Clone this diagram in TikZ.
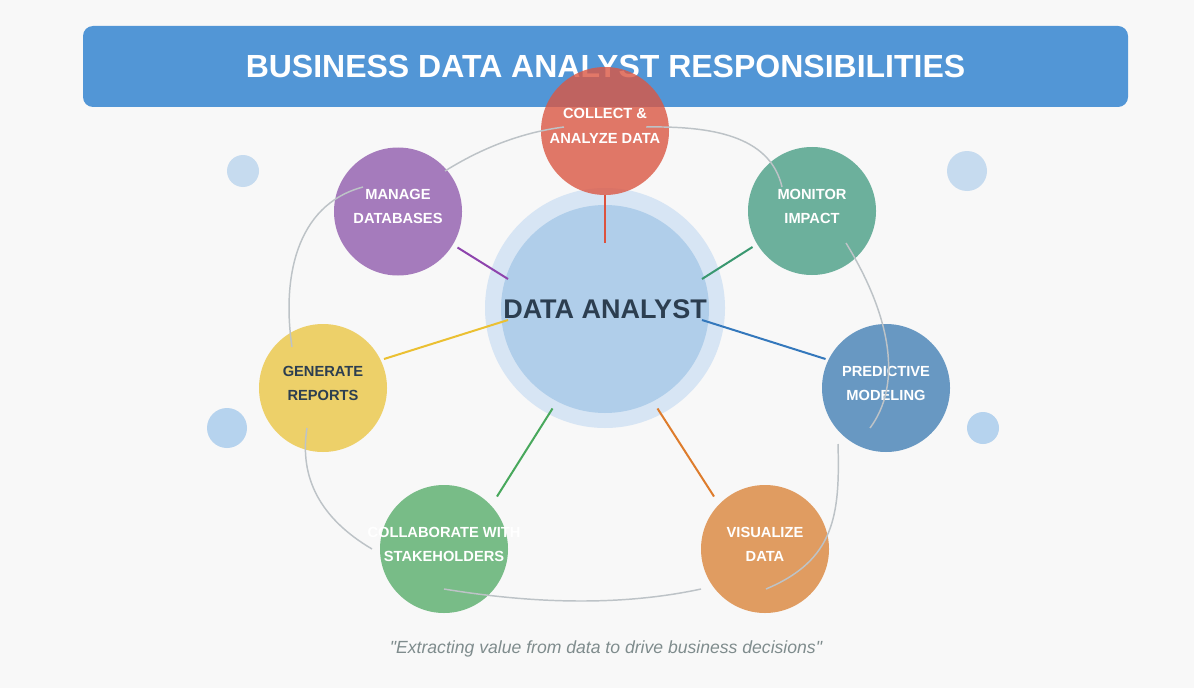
\documentclass[tikz,border=0pt]{standalone}
\usepackage{fontspec}
\setmainfont{Liberation Sans}[Ligatures=TeXOff]
\usetikzlibrary{calc}
\definecolor{bgc}{RGB}{248,248,248}
\definecolor{titlec}{RGB}{82,150,214}
\definecolor{darkc}{RGB}{44,62,80}
\definecolor{haloc}{RGB}{215,229,244}
\definecolor{hubc}{RGB}{176,206,234}
\definecolor{dotA}{RGB}{198,219,239}
\definecolor{dotB}{RGB}{182,211,238}
\definecolor{linkc}{RGB}{189,195,199}
\definecolor{quotec}{RGB}{127,140,141}
\definecolor{collc}{RGB}{219,87,67}
\definecolor{mngc}{RGB}{145,92,173}
\definecolor{monc}{RGB}{73,158,134}
\definecolor{prdc}{RGB}{68,129,181}
\definecolor{visc}{RGB}{219,133,60}
\definecolor{clbc}{RGB}{88,173,107}
\definecolor{genc}{RGB}{235,198,70}
\definecolor{collsp}{RGB}{220,82,62}
\definecolor{mngsp}{RGB}{142,68,173}
\definecolor{monsp}{RGB}{58,152,112}
\definecolor{prdsp}{RGB}{52,120,188}
\definecolor{vissp}{RGB}{222,124,44}
\definecolor{clbsp}{RGB}{72,168,92}
\definecolor{gensp}{RGB}{235,192,50}
\begin{document}
\begin{tikzpicture}[x=0.75pt,y=-0.75pt,inner sep=0pt,outer sep=0pt,
satnode/.style={circle,minimum size=96pt,fill=#1,fill opacity=0.8,text opacity=1,text=white,
  font=\fontsize{11}{18}\selectfont\bfseries,align=center,text height=25.5pt,text depth=7.5pt},
spoke/.style={draw=#1,line width=1.5pt},
link/.style={draw=linkc,line width=1.1pt},
dot/.style={circle,fill=#1}]
\useasboundingbox (0,0) rectangle (1194,688);
\fill[bgc] (0,0) rectangle (1194,688);
\draw (605.5,66.5) node[fill=titlec,rounded corners=7.5pt,minimum width=783.75pt,minimum height=60.75pt,
  text=white,font=\fontsize{24}{28}\selectfont\bfseries] (title) {BUSINESS DATA ANALYST RESPONSIBILITIES};
\draw (243,171) node[dot=dotA,minimum size=24pt] (dot1) {};
\draw (967,171) node[dot=dotA,minimum size=30pt] (dot2) {};
\draw (227,428) node[dot=dotB,minimum size=30pt] (dot3) {};
\draw (983,428) node[dot=dotB,minimum size=24pt] (dot4) {};
\draw (605,308) node[circle,fill=haloc,minimum size=180pt] (halo) {};
\draw (605,309) node[circle,fill=hubc,minimum size=156pt,text=darkc,
  font=\fontsize{20.25}{24}\selectfont\bfseries] (analyst) {DATA ANALYST};
\draw (605,131) node[satnode=collc] (collect) {COLLECT \&\\ANALYZE DATA};
\draw (398,211.5) node[satnode=mngc] (manage) {MANAGE\\DATABASES};
\draw (812,211) node[satnode=monc] (monitor) {MONITOR\\IMPACT};
\draw (886,388) node[satnode=prdc] (predict) {PREDICTIVE\\MODELING};
\draw (765,549) node[satnode=visc] (visual) {VISUALIZE\\DATA};
\draw (444,549) node[satnode=clbc] (collab) {\makebox[0pt]{COLLABORATE WITH}\\STAKEHOLDERS};
\draw (323,388) node[satnode=genc,text=darkc] (gen) {GENERATE\\REPORTS};
\draw[spoke=collsp] ($(collect)+(0,64)$) -- ($(analyst)+(0,-66)$);
\draw[spoke=mngsp] ($(manage)+(59.5,36)$) -- ($(analyst)+(-97,-30)$);
\draw[spoke=monsp] ($(monitor)+(-59.5,36)$) -- ($(analyst)+(97,-30)$);
\draw[spoke=prdsp] ($(predict)+(-60.5,-29)$) -- ($(analyst)+(97,11)$);
\draw[spoke=gensp] ($(gen)+(61,-29)$) -- ($(analyst)+(-97,11)$);
\draw[spoke=clbsp] ($(collab)+(53,-52.5)$) -- ($(analyst)+(-52.5,99.5)$);
\draw[spoke=vissp] ($(visual)+(-51,-52.5)$) -- ($(analyst)+(52.5,99.5)$);
\draw[link] ($(manage)+(47,-40.5)$) .. controls (485,146) and (525,132) .. ($(collect)+(-41,-4)$);
\draw[link] ($(collect)+(41,-4)$) .. controls (710,126) and (770,135) .. ($(monitor)+(-30,-24)$);
\draw[link] ($(monitor)+(34,32)$) .. controls (892,318) and (902,385) .. ($(predict)+(-16,40)$);
\draw[link] ($(predict)+(-48,56)$) .. controls (840,515) and (835,560) .. ($(visual)+(1,40)$);
\draw[link] ($(visual)+(-64,40)$) .. controls (627,605) and (541,605) .. ($(collab)+(0,40)$);
\draw[link] ($(collab)+(-72,0)$) .. controls (320.7,518.7) and (299,478.3) .. ($(gen)+(-16,40)$);
\draw[link] ($(gen)+(-31,-41)$) .. controls (282,280) and (295,205) .. ($(manage)+(-35,-24.5)$);
\draw (606,653) node[anchor=base,text=quotec,font=\fontsize{13.2}{16}\selectfont\itshape] (quote)
  {"Extracting value from data to drive business decisions"};
\end{tikzpicture}
\end{document}
